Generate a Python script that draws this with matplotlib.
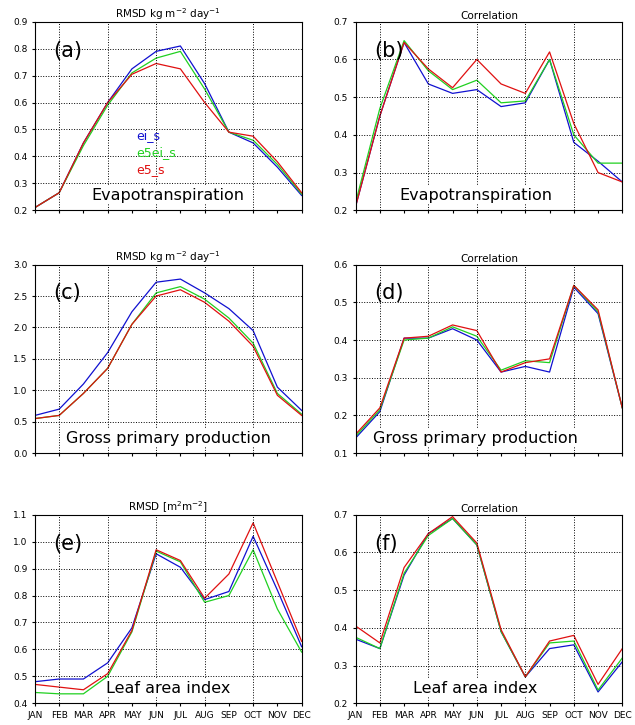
import matplotlib
matplotlib.use("Agg")
import matplotlib.pyplot as plt
import numpy as np

months = ["JAN", "FEB", "MAR", "APR", "MAY", "JUN", "JUL", "AUG", "SEP", "OCT", "NOV", "DEC"]
series_names = ["ei_s", "e5ei_s", "e5_s"]
colors = ["#1010d0", "#20d020", "#e01010"]

# (a) RMSD evapotranspiration
et_rmsd_ei = [0.21, 0.265, 0.45, 0.60, 0.725, 0.79, 0.81, 0.67, 0.49, 0.45, 0.36, 0.255]
et_rmsd_e5ei = [0.21, 0.265, 0.44, 0.59, 0.71, 0.765, 0.79, 0.65, 0.49, 0.46, 0.37, 0.26]
et_rmsd_e5 = [0.21, 0.265, 0.45, 0.60, 0.705, 0.745, 0.725, 0.60, 0.49, 0.475, 0.38, 0.265]
# (b) correlation evapotranspiration
et_cor_ei = [0.21, 0.45, 0.645, 0.535, 0.51, 0.52, 0.475, 0.485, 0.60, 0.38, 0.33, 0.275]
et_cor_e5ei = [0.22, 0.47, 0.65, 0.57, 0.52, 0.545, 0.485, 0.49, 0.60, 0.40, 0.325, 0.325]
et_cor_e5 = [0.21, 0.45, 0.645, 0.575, 0.525, 0.60, 0.535, 0.51, 0.62, 0.43, 0.30, 0.275]
# (c) RMSD GPP
gpp_rmsd_ei = [0.60, 0.70, 1.10, 1.60, 2.25, 2.72, 2.77, 2.55, 2.30, 1.95, 1.05, 0.68]
gpp_rmsd_e5ei = [0.55, 0.60, 0.95, 1.35, 2.05, 2.55, 2.65, 2.45, 2.15, 1.75, 0.95, 0.62]
gpp_rmsd_e5 = [0.55, 0.60, 0.95, 1.35, 2.05, 2.50, 2.60, 2.40, 2.10, 1.70, 0.92, 0.60]
# (d) correlation GPP
gpp_cor_ei = [0.14, 0.21, 0.405, 0.405, 0.43, 0.40, 0.315, 0.33, 0.315, 0.54, 0.47, 0.22]
gpp_cor_e5ei = [0.145, 0.215, 0.40, 0.405, 0.435, 0.41, 0.32, 0.345, 0.34, 0.545, 0.475, 0.22]
gpp_cor_e5 = [0.15, 0.22, 0.405, 0.41, 0.44, 0.425, 0.315, 0.34, 0.35, 0.545, 0.48, 0.22]
# (e) RMSD LAI
lai_rmsd_ei = [0.48, 0.49, 0.49, 0.55, 0.68, 0.955, 0.905, 0.785, 0.815, 1.02, 0.82, 0.61]
lai_rmsd_e5ei = [0.44, 0.435, 0.435, 0.50, 0.665, 0.965, 0.925, 0.775, 0.80, 0.97, 0.75, 0.59]
lai_rmsd_e5 = [0.47, 0.46, 0.45, 0.51, 0.67, 0.97, 0.93, 0.79, 0.88, 1.07, 0.85, 0.63]
# (f) correlation LAI
lai_cor_ei = [0.37, 0.345, 0.54, 0.65, 0.69, 0.62, 0.39, 0.27, 0.345, 0.355, 0.23, 0.31]
lai_cor_e5ei = [0.375, 0.345, 0.545, 0.645, 0.69, 0.62, 0.39, 0.27, 0.36, 0.365, 0.235, 0.32]
lai_cor_e5 = [0.405, 0.36, 0.56, 0.65, 0.695, 0.625, 0.395, 0.27, 0.365, 0.38, 0.25, 0.345]

panels = [
    ("(a)", r"RMSD kg m$^{-2}$ day$^{-1}$", "Evapotranspiration", (0.2, 0.9), 0.1, [et_rmsd_ei, et_rmsd_e5ei, et_rmsd_e5]),
    ("(b)", "Correlation", "Evapotranspiration", (0.2, 0.7), 0.1, [et_cor_ei, et_cor_e5ei, et_cor_e5]),
    ("(c)", r"RMSD kg m$^{-2}$ day$^{-1}$", "Gross primary production", (0.0, 3.0), 0.5, [gpp_rmsd_ei, gpp_rmsd_e5ei, gpp_rmsd_e5]),
    ("(d)", "Correlation", "Gross primary production", (0.1, 0.6), 0.1, [gpp_cor_ei, gpp_cor_e5ei, gpp_cor_e5]),
    ("(e)", r"RMSD [m$^2$m$^{-2}$]", "Leaf area index", (0.4, 1.1), 0.1, [lai_rmsd_ei, lai_rmsd_e5ei, lai_rmsd_e5]),
    ("(f)", "Correlation", "Leaf area index", (0.2, 0.7), 0.1, [lai_cor_ei, lai_cor_e5ei, lai_cor_e5]),
]

fig = plt.figure(figsize=(6.35, 7.25), dpi=100)
lefts = [0.055, 0.56]
bottoms = [0.71, 0.375, 0.03]
w, h = 0.42, 0.26
x = np.arange(len(months))

for i, (tag, title, label, ylim, step, data) in enumerate(panels):
    ax = fig.add_axes([lefts[i % 2], bottoms[i // 2], w, h])
    for vals, c in zip(data, colors):
        ax.plot(x, vals, color=c, lw=0.9)
    ax.set_xlim(0, 11)
    ax.set_ylim(*ylim)
    ax.set_yticks(np.arange(ylim[0], ylim[1] + step / 2, step))
    ax.yaxis.set_major_formatter(matplotlib.ticker.FormatStrFormatter("%.1f"))
    ax.set_xticks(x)
    ax.xaxis.grid(False)
    for gx in x[1::2]:
        ax.axvline(gx, color="k", ls=":", lw=0.7)
    ax.yaxis.grid(True, color="k", ls=":", lw=0.7)
    if i // 2 == 2:
        ax.set_xticklabels(months, fontsize=6.5)
    else:
        ax.set_xticklabels([])
    ax.tick_params(labelsize=6.5, length=2)
    ax.set_title(title, fontsize=7.5, pad=2)
    ax.text(0.07, 0.9, tag, transform=ax.transAxes, fontsize=15, va="top")
    ax.text(0.5 if i % 2 == 0 else 0.45, 0.04, label, transform=ax.transAxes,
            fontsize=11.5, ha="center", va="bottom",
            bbox=dict(facecolor="white", edgecolor="none", pad=1))
    if i == 0:
        for j, (n, c) in enumerate(zip(series_names, colors)):
            ax.text(0.38, 0.38 - j * 0.09, n, color=c, fontsize=9, transform=ax.transAxes)

plt.savefig("out.png")
